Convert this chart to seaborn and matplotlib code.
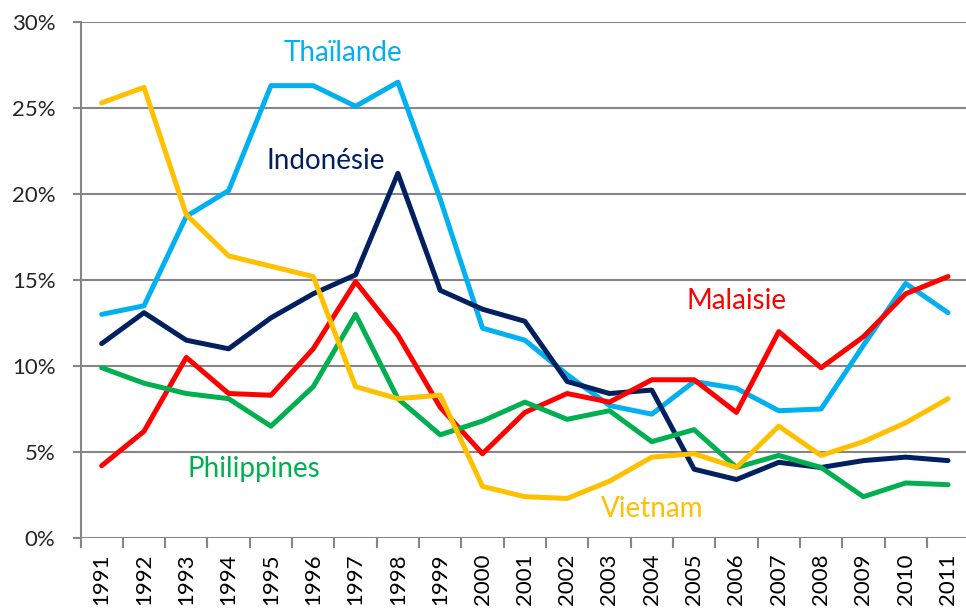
import numpy as np
import pandas as pd
import seaborn as sns
import matplotlib.pyplot as plt
from matplotlib.ticker import FixedLocator, FuncFormatter

years = list(range(1991, 2012))

thailande = [13.0, 13.5, 18.7, 20.2, 26.3, 26.3, 25.1, 26.5, 19.7, 12.2, 11.5,
             9.5, 7.7, 7.2, 9.1, 8.7, 7.4, 7.5, 11.2, 14.8, 13.1]
indonesie = [11.3, 13.1, 11.5, 11.0, 12.8, 14.2, 15.3, 21.2, 14.4, 13.3, 12.6,
             9.1, 8.4, 8.6, 4.0, 3.4, 4.4, 4.1, 4.5, 4.7, 4.5]
malaisie = [4.2, 6.2, 10.5, 8.4, 8.3, 11.0, 14.9, 11.8, 7.6, 4.9, 7.3,
            8.4, 7.9, 9.2, 9.2, 7.3, 12.0, 9.9, 11.7, 14.2, 15.2]
philippines = [9.9, 9.0, 8.4, 8.1, 6.5, 8.8, 13.0, 8.1, 6.0, 6.8, 7.9,
               6.9, 7.4, 5.6, 6.3, 4.1, 4.8, 4.1, 2.4, 3.2, 3.1]
vietnam = [25.3, 26.2, 18.8, 16.4, 15.8, 15.2, 8.8, 8.1, 8.3, 3.0, 2.4,
           2.3, 3.3, 4.7, 4.9, 4.1, 6.5, 4.8, 5.6, 6.7, 8.1]

series = {
    'Thaïlande': thailande,
    'Indonésie': indonesie,
    'Malaisie': malaisie,
    'Philippines': philippines,
    'Vietnam': vietnam,
}
colors = {
    'Thaïlande': '#00B0F0',
    'Indonésie': '#002060',
    'Malaisie': '#FF0000',
    'Philippines': '#00B050',
    'Vietnam': '#FFC000',
}
# label positions (index of year, value in %)
label_pos = {
    'Thaïlande': (5.7, 28.2),
    'Indonésie': (5.3, 21.9),
    'Malaisie': (15.0, 13.8),
    'Philippines': (3.6, 4.0),
    'Vietnam': (13.0, 1.7),
}

rows = []
for name, vals in series.items():
    for i, v in enumerate(vals):
        rows.append({'idx': i, 'year': years[i], 'value': v, 'pays': name})
df = pd.DataFrame(rows)

sns.set_style('white')
plt.rcParams['font.family'] = ['Lato', 'DejaVu Sans']

fig = plt.figure(figsize=(9.66, 6.10), dpi=100)
ax = fig.add_axes([80.5 / 966, 72 / 610, 888.7 / 966, 516 / 610])

grid_c = '#868686'
for v in range(0, 31, 5):
    ax.axhline(v, color=grid_c, lw=1.5, zorder=0)

sns.lineplot(data=df, x='idx', y='value', hue='pays', palette=colors,
             linewidth=3.6, legend=False, ax=ax, zorder=3)

ax.set_xlim(-0.5, 20.5)
ax.set_ylim(0, 30)
ax.set_xlabel('')
ax.set_ylabel('')

ax.set_yticks(range(0, 31, 5))
ax.yaxis.set_major_formatter(FuncFormatter(lambda v, p: f'{int(v)}%'))
ax.xaxis.set_major_locator(FixedLocator(np.arange(-0.5, 21, 1)))
ax.set_xticklabels([])
ax.set_xticks(np.arange(0, 21, 1), labels=[str(y) for y in years], minor=True, rotation=90)
ax.tick_params(axis='x', which='major', length=7, width=1.5, color=grid_c, direction='out', bottom=True)
ax.tick_params(axis='x', which='minor', length=0, labelsize=16, pad=11, colors='black')
ax.tick_params(axis='y', length=6, width=1.5, color=grid_c, direction='out', labelsize=16, left=True, pad=12)

for s in ['top', 'right', 'bottom']:
    ax.spines[s].set_visible(False)
ax.spines['left'].set_color(grid_c)
ax.spines['left'].set_linewidth(1.5)

for name, (x, y) in label_pos.items():
    ax.text(x, y, name, color=colors[name], fontsize=20, ha='center', va='center', zorder=4)

fig.savefig('out.png', dpi=100)
